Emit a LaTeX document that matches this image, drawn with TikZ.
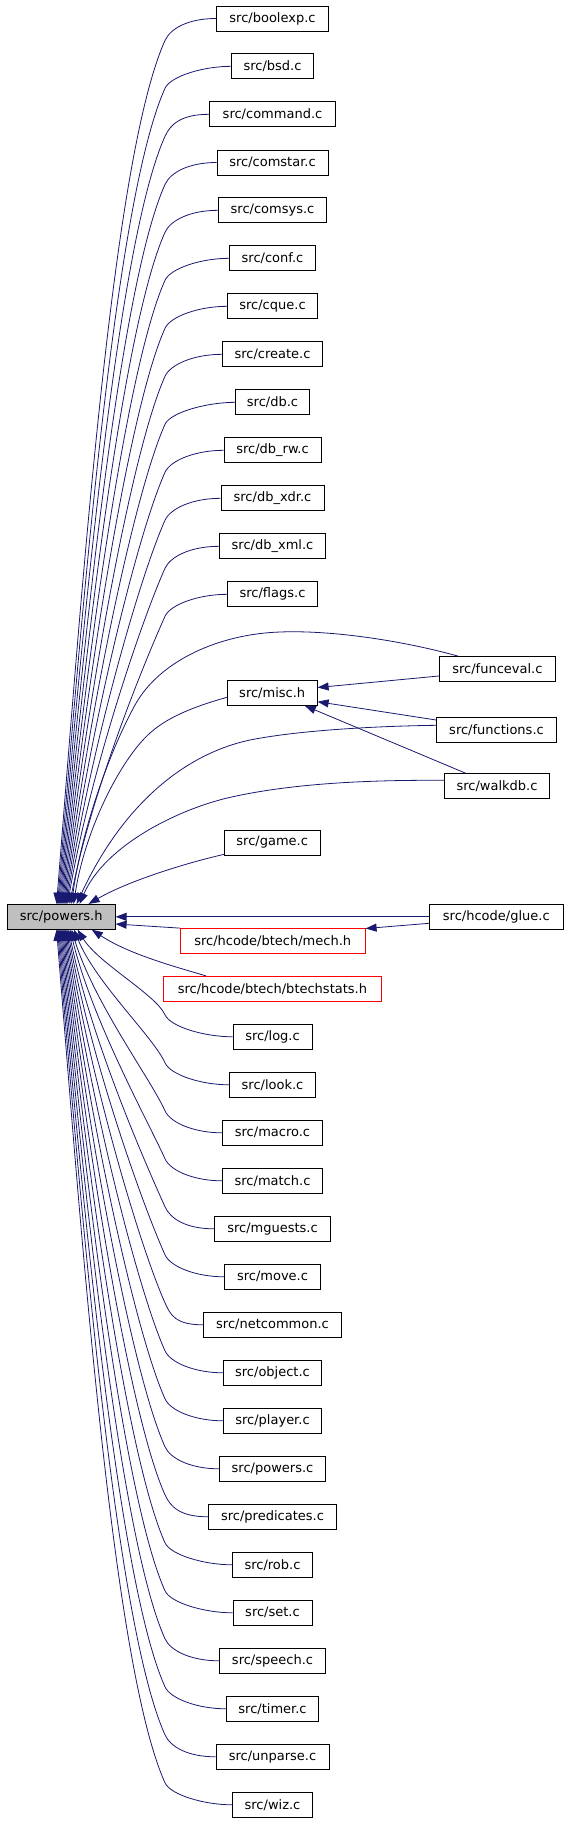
\documentclass[tikz,border=0pt]{standalone}
\usepackage{fontspec}
\setmainfont{DejaVu Sans}
\usetikzlibrary{arrows.meta,calc}
\definecolor{edgeblue}{HTML}{191970}
\definecolor{hgray}{HTML}{BFBFBF}
\begin{document}
\begin{tikzpicture}[x=1pt,y=-1pt,
  box/.style={draw=black,line width=0.8pt,minimum height=25pt,inner sep=0pt,
    font=\fontsize{13}{15}\selectfont,anchor=center,fill=white},
  redbox/.style={box,draw=red},
  edge/.style={draw=edgeblue,line width=0.8pt,-{Triangle[length=11pt,width=8pt]}}]
\useasboundingbox (0,0) rectangle (568,1821);

\node[box,fill=hgray,minimum width=108pt] (ph) at (61.2,916.8) {src/powers.h};

% left column nodes
\node[box,minimum width=112pt] (boolexp) at (272.5,18.5) {src/boolexp.c};
\node[box,minimum width=82pt]  (bsd) at (272.5,66.3) {src/bsd.c};
\node[box,minimum width=126pt] (command) at (272.5,114.3) {src/command.c};
\node[box,minimum width=111pt] (comstar) at (272.5,162.5) {src/comstar.c};
\node[box,minimum width=108pt] (comsys) at (272.5,210.3) {src/comsys.c};
\node[box,minimum width=86pt]  (conf) at (272.5,258.3) {src/conf.c};
\node[box,minimum width=90pt]  (cque) at (272.5,306.3) {src/cque.c};
\node[box,minimum width=100pt] (create) at (272.5,354.3) {src/create.c};
\node[box,minimum width=74pt]  (db) at (272.5,402.3) {src/db.c};
\node[box,minimum width=97pt]  (dbrw) at (272.5,450.3) {src/db\_rw.c};
\node[box,minimum width=103pt] (dbxdr) at (272.5,498.3) {src/db\_xdr.c};
\node[box,minimum width=106pt] (dbxml) at (272.5,546.3) {src/db\_xml.c};
\node[box,minimum width=90pt]  (flags) at (272.5,594.3) {src/flags.c};
\node[box,minimum width=90pt]  (misc) at (272.2,692.8) {src/misc.h};
\node[box,minimum width=96pt]  (game) at (272.2,842.5) {src/game.c};
\node[redbox,minimum width=185pt] (mech) at (272.7,941) {src/hcode/btech/mech.h};
\node[redbox,minimum width=218pt] (btech) at (272.4,988.8) {src/hcode/btech/btechstats.h};
\node[box,minimum width=79pt]  (log) at (272.5,1036.8) {src/log.c};
\node[box,minimum width=86pt]  (look) at (272.5,1084.8) {src/look.c};
\node[box,minimum width=100pt] (macro) at (272.5,1132.8) {src/macro.c};
\node[box,minimum width=100pt] (match) at (272.5,1180.8) {src/match.c};
\node[box,minimum width=116pt] (mguests) at (272.5,1228.8) {src/mguests.c};
\node[box,minimum width=96pt]  (move) at (272.5,1276.8) {src/move.c};
\node[box,minimum width=138pt] (netcommon) at (272.5,1324.8) {src/netcommon.c};
\node[box,minimum width=98pt]  (object) at (272.5,1372.8) {src/object.c};
\node[box,minimum width=98pt]  (player) at (272.5,1420.8) {src/player.c};
\node[box,minimum width=106pt] (powersc) at (272.5,1468.8) {src/powers.c};
\node[box,minimum width=128pt] (predicates) at (272.5,1516.8) {src/predicates.c};
\node[box,minimum width=80pt]  (rob) at (272.5,1564.8) {src/rob.c};
\node[box,minimum width=79pt]  (set) at (272.5,1612.8) {src/set.c};
\node[box,minimum width=106pt] (speech) at (272.5,1660.8) {src/speech.c};
\node[box,minimum width=92pt]  (timer) at (272.5,1708.8) {src/timer.c};
\node[box,minimum width=113pt] (unparse) at (272.5,1756.8) {src/unparse.c};
\node[box,minimum width=80pt]  (wiz) at (272.5,1804.8) {src/wiz.c};
% right column
\node[box,minimum width=116pt] (funceval) at (497.4,669) {src/funceval.c};
\node[box,minimum width=120pt] (functions) at (496.5,730.3) {src/functions.c};
\node[box,minimum width=105pt] (walkdb) at (497,786.3) {src/walkdb.c};
\node[box,minimum width=134pt] (glue) at (496.3,916.8) {src/hcode/glue.c};

% ---------- edges ----------
\foreach \n/\yy/\ex in {boolexp/18.5/57, bsd/66.3/58, command/114.3/59,
  comstar/162.5/60, comsys/210.3/61, conf/258.3/62, cque/306.3/63,
  create/354.3/64, db/402.3/65, dbrw/450.3/66, dbxdr/498.3/67,
  dbxml/546.3/68, flags/594.3/70}{
  \pgfmathsetmacro\myky{\yy+22}
  \pgfmathsetmacro\myD{904.3-\myky}
  \pgfmathsetmacro\myLa{0.12*\myD+10}
  \pgfmathsetmacro\myLb{0.4*\myD}
  \pgfmathsetmacro\mykk{50/\myD+0.02}
  \pgfmathsetmacro\mydx{\ex-7.2}
  \draw[edge] (\n.west) .. controls +(-28,0) and (170.4,{\yy+10}) .. (165,\myky)
    .. controls ({165-0.45*\myLa},{\myky+\myLa}) and ({\ex+\mykk*\myLb},{904.3-\myLb})
    .. ([xshift=\mydx pt]ph.north west);
}
\foreach \n/\yy/\ex in {log/1036.8/78, look/1084.8/74.5, macro/1132.8/72,
  match/1180.8/70.5, mguests/1228.8/69, move/1276.8/68, netcommon/1324.8/67,
  object/1372.8/66, player/1420.8/65, powersc/1468.8/64, predicates/1516.8/63,
  rob/1564.8/62, set/1612.8/61, speech/1660.8/60, timer/1708.8/59,
  unparse/1756.8/58, wiz/1804.8/57}{
  \pgfmathsetmacro\myky{\yy-22}
  \pgfmathsetmacro\myD{\myky-929.3}
  \pgfmathsetmacro\myLa{0.12*\myD+10}
  \pgfmathsetmacro\myLb{0.4*\myD}
  \pgfmathsetmacro\mykk{50/\myD+0.02}
  \pgfmathsetmacro\mydx{\ex-7.2}
  \draw[edge] (\n.west) .. controls +(-28,0) and (170.4,{\yy-10}) .. (165,\myky)
    .. controls ({165-0.45*\myLa},{\myky-\myLa}) and ({\ex+\mykk*\myLb},{929.3+\myLb})
    .. ([xshift=\mydx pt]ph.south west);
}

\draw[edge] ([xshift=19pt]funceval.north west) .. controls (400,640) and (330,630) .. (280,632)
  .. controls (220,634) and (160,660) .. (135,705)
  .. controls (105,760) and (80,840) .. ([xshift=64.8pt]ph.north west);
\draw[edge] ([yshift=5pt]functions.west) .. controls (380,726) and (300,730) .. (250,740)
  .. controls (180,755) and (120,810) .. ([xshift=69.8pt]ph.north west);
\draw[edge] ([yshift=6pt]walkdb.west) .. controls (380,780) and (300,782) .. (233,796.7)
  .. controls (180,808) and (105,845) .. ([xshift=72.8pt]ph.north west);
\draw[edge] ([yshift=-4.5pt]misc.west) .. controls (200,705) and (170,715) .. (150,733)
  .. controls (120,760) and (85,830) .. ([xshift=66.8pt]ph.north west);
\draw[edge] ([yshift=1pt]game.south west) .. controls (190,862) and (130,880) .. ([xshift=81.8pt]ph.north west);
\draw[edge] ([xshift=43pt]btech.north west) .. controls (180,968) and (130,955) .. ([xshift=85pt]ph.south west);
\draw[edge] (mech.north west) -- ([yshift=-7.2pt]ph.east);
\draw[edge] (glue.west) -- (ph.east);
\draw[edge] ([yshift=-6.5pt]glue.west) -- ([yshift=12.5pt]mech.east);
\draw[edge] ([yshift=-7pt]funceval.west) -- ([yshift=5.3pt]misc.east);
\draw[edge] ([yshift=10.3pt]functions.west) -- ([yshift=-8.9pt]misc.east);
\draw[edge] ([xshift=22pt]walkdb.north west) -- ([xshift=78pt]misc.south west);
\end{tikzpicture}
\end{document}
